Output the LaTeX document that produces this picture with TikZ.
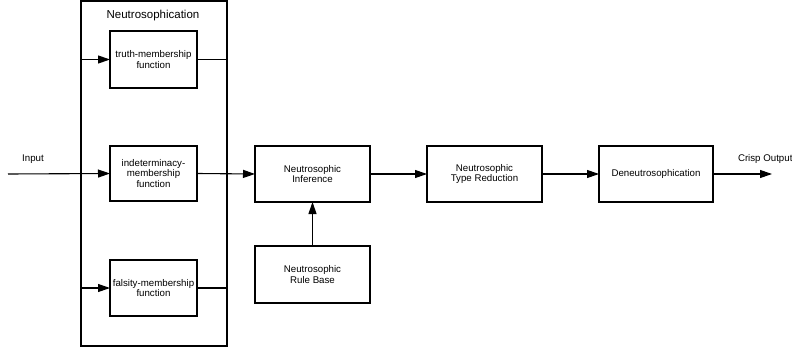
\documentclass[tikz,border=0pt]{standalone}
\usepackage{fontspec}
\setmainfont{Liberation Sans}
\usetikzlibrary{arrows.meta}
\begin{document}
\begin{tikzpicture}[x=1pt,y=-1pt,
  line width=1.1pt,
  every node/.style={inner sep=0pt, outer sep=0pt},
  blk/.style={draw, line width=1.1pt, align=center, font=\fontsize{9.7}{10.5}\selectfont},
  lbl/.style={font=\fontsize{9.7}{10.5}\selectfont},
  arr/.style={-{Triangle[length=12pt,width=8pt]}}
]
\useasboundingbox (0,0) rectangle (792,350);
% outer neutrosophication box
\node[draw, line width=1.1pt, minimum width=146pt, minimum height=345pt] (nbox) at (154,173.5) {};
\node[font=\fontsize{11.5}{13}\selectfont] (ntitle) at (153,16) {Neutrosophication};
% inner boxes
\node[blk, minimum width=87pt, minimum height=57pt] (t) at (153.5,59.5) {truth-membership\\function};
\node[blk, minimum width=87pt, minimum height=55pt] (ind) at (153.5,173.5) {indeterminacy-\\membership\\function};
\node[blk, minimum width=87pt, minimum height=56pt] (f) at (153.5,288) {falsity-membership\\function};
% main chain
\node[blk, minimum width=115pt, minimum height=56pt] (inf) at (312.5,174) {Neutrosophic\\Inference};
\node[blk, minimum width=115pt, minimum height=57pt] (rb) at (312.5,274.5) {Neutrosophic\\Rule Base};
\node[blk, minimum width=115pt, minimum height=56pt] (tr) at (484.5,174) {Neutrosophic\\Type Reduction};
\node[blk, minimum width=114pt, minimum height=56pt] (dn) at (656,174) {Deneutrosophication};
% labels
\node[lbl] (inlbl) at (33,159) {Input};
\node[lbl, anchor=west] (outlbl) at (738,159) {Crisp Output};
% endpoints
\coordinate (inp) at (8,174);
\coordinate (outp) at (772,174);
% connectors
\draw[arr] (inp) -- (ind.west);
\draw[arr] (t.west -| nbox.west) -- (t.west);
\draw[arr] (f.west -| nbox.west) -- (f.west);
\draw (t.east) -- (t.east -| nbox.east);
\draw (f.east) -- (f.east -| nbox.east);
\draw[arr] (ind.east) -- (inf.west);
\draw[arr] (rb.north) -- (inf.south);
\draw[arr] (inf.east) -- (tr.west);
\draw[arr] (tr.east) -- (dn.west);
\draw[arr] (dn.east) -- (outp);
\end{tikzpicture}
\end{document}
